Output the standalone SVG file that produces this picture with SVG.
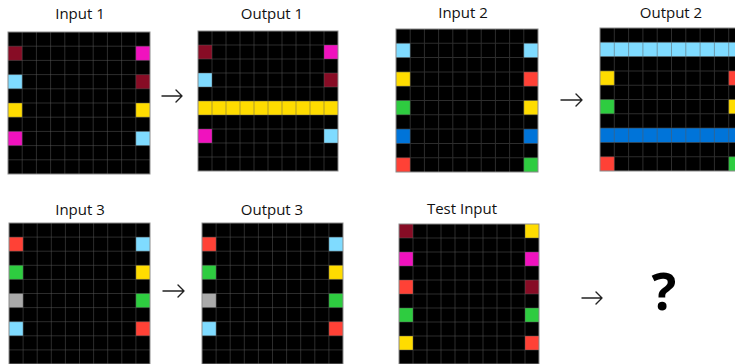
<svg xmlns="http://www.w3.org/2000/svg" xmlns:xlink="http://www.w3.org/1999/xlink" width="735" height="364" viewBox="0 0 735 364">
<style>
.t{font-family:"Open Sans","Noto Sans","Liberation Sans",sans-serif;font-size:15px;fill:#111;text-anchor:middle}
.bg{fill:#000}
.gl{fill:none;stroke:#5a5a5a;stroke-opacity:.5;stroke-width:0.07}
.bd{fill:none;stroke:#8a8a8a;stroke-width:0.07}
.m{fill:#870C25}.p{fill:#F012BE}.c{fill:#7FDBFF}.y{fill:#FFDC00}.r{fill:#FF4136}.g{fill:#2ECC40}.b{fill:#0074D9}.s{fill:#AAAAAA}
.ar{fill:none;stroke:#222;stroke-width:1.4;stroke-linecap:round;stroke-linejoin:round}
</style>
<defs>
<path id="gl" d="M1 0V10M2 0V10M3 0V10M4 0V10M5 0V10M6 0V10M7 0V10M8 0V10M9 0V10M0 1H10M0 2H10M0 3H10M0 4H10M0 5H10M0 6H10M0 7H10M0 8H10M0 9H10"/>
<rect id="bgr" width="10" height="10"/>
</defs>

<g id="input1">
<text class="t" x="80" y="19">Input 1</text>
<g transform="translate(8,32) scale(14.2)">
<use href="#bgr" class="bg"/>
<rect class="m" x="0" y="1" width="1" height="1"/><rect class="p" x="9" y="1" width="1" height="1"/>
<rect class="c" x="0" y="3" width="1" height="1"/><rect class="m" x="9" y="3" width="1" height="1"/>
<rect class="y" x="0" y="5" width="1" height="1"/><rect class="y" x="9" y="5" width="1" height="1"/>
<rect class="p" x="0" y="7" width="1" height="1"/><rect class="c" x="9" y="7" width="1" height="1"/>
<use href="#gl" class="gl"/>
<rect class="bd" width="10" height="10"/>
</g>
</g>

<g id="output1">
<text class="t" x="272" y="19">Output 1</text>
<g transform="translate(198,31) scale(14.0)">
<use href="#bgr" class="bg"/>
<rect class="m" x="0" y="1" width="1" height="1"/><rect class="p" x="9" y="1" width="1" height="1"/>
<rect class="c" x="0" y="3" width="1" height="1"/><rect class="m" x="9" y="3" width="1" height="1"/>
<rect class="y" x="0" y="5" width="10" height="1"/>
<rect class="p" x="0" y="7" width="1" height="1"/><rect class="c" x="9" y="7" width="1" height="1"/>
<use href="#gl" class="gl"/>
<rect class="bd" width="10" height="10"/>
</g>
</g>

<g id="input2">
<text class="t" x="463" y="18">Input 2</text>
<g transform="translate(396,29) scale(14.2,14.3)">
<use href="#bgr" class="bg"/>
<rect class="c" x="0" y="1" width="1" height="1"/><rect class="c" x="9" y="1" width="1" height="1"/>
<rect class="y" x="0" y="3" width="1" height="1"/><rect class="r" x="9" y="3" width="1" height="1"/>
<rect class="g" x="0" y="5" width="1" height="1"/><rect class="y" x="9" y="5" width="1" height="1"/>
<rect class="b" x="0" y="7" width="1" height="1"/><rect class="b" x="9" y="7" width="1" height="1"/>
<rect class="r" x="0" y="9" width="1" height="1"/><rect class="g" x="9" y="9" width="1" height="1"/>
<use href="#gl" class="gl"/>
<rect class="bd" width="10" height="10"/>
</g>
</g>

<g id="output2">
<text class="t" x="671" y="18">Output 2</text>
<g transform="translate(600,28) scale(14.3)">
<use href="#bgr" class="bg"/>
<rect class="c" x="0" y="1" width="10" height="1"/>
<rect class="y" x="0" y="3" width="1" height="1"/><rect class="r" x="9" y="3" width="1" height="1"/>
<rect class="g" x="0" y="5" width="1" height="1"/><rect class="y" x="9" y="5" width="1" height="1"/>
<rect class="b" x="0" y="7" width="10" height="1"/>
<rect class="r" x="0" y="9" width="1" height="1"/><rect class="g" x="9" y="9" width="1" height="1"/>
<use href="#gl" class="gl"/>
<rect class="bd" width="10" height="10"/>
</g>
</g>

<g id="input3">
<text class="t" x="80" y="215">Input 3</text>
<g transform="translate(9,223) scale(14.1)">
<use href="#bgr" class="bg"/>
<rect class="r" x="0" y="1" width="1" height="1"/><rect class="c" x="9" y="1" width="1" height="1"/>
<rect class="g" x="0" y="3" width="1" height="1"/><rect class="y" x="9" y="3" width="1" height="1"/>
<rect class="s" x="0" y="5" width="1" height="1"/><rect class="g" x="9" y="5" width="1" height="1"/>
<rect class="c" x="0" y="7" width="1" height="1"/><rect class="r" x="9" y="7" width="1" height="1"/>
<use href="#gl" class="gl"/>
<rect class="bd" width="10" height="10"/>
</g>
</g>

<g id="output3">
<text class="t" x="272" y="215">Output 3</text>
<g transform="translate(202,223) scale(14.1)">
<use href="#bgr" class="bg"/>
<rect class="r" x="0" y="1" width="1" height="1"/><rect class="c" x="9" y="1" width="1" height="1"/>
<rect class="g" x="0" y="3" width="1" height="1"/><rect class="y" x="9" y="3" width="1" height="1"/>
<rect class="s" x="0" y="5" width="1" height="1"/><rect class="g" x="9" y="5" width="1" height="1"/>
<rect class="c" x="0" y="7" width="1" height="1"/><rect class="r" x="9" y="7" width="1" height="1"/>
<use href="#gl" class="gl"/>
<rect class="bd" width="10" height="10"/>
</g>
</g>

<g id="testinput">
<text class="t" x="462" y="214">Test Input</text>
<g transform="translate(399,224) scale(14.0)">
<use href="#bgr" class="bg"/>
<rect class="m" x="0" y="0" width="1" height="1"/><rect class="y" x="9" y="0" width="1" height="1"/>
<rect class="p" x="0" y="2" width="1" height="1"/><rect class="p" x="9" y="2" width="1" height="1"/>
<rect class="r" x="0" y="4" width="1" height="1"/><rect class="m" x="9" y="4" width="1" height="1"/>
<rect class="g" x="0" y="6" width="1" height="1"/><rect class="g" x="9" y="6" width="1" height="1"/>
<rect class="y" x="0" y="8" width="1" height="1"/><rect class="r" x="9" y="8" width="1" height="1"/>
<use href="#gl" class="gl"/>
<rect class="bd" width="10" height="10"/>
</g>
</g>

<g id="unknown">
<text x="664" y="310" style="font-family:'Open Sans','Liberation Sans',sans-serif;font-weight:bold;font-size:52px;fill:#000;text-anchor:middle">?</text>
</g>

<g id="connectors">
<path class="ar" d="M162 96H182M176 90L182 96L176 102"/>
<path class="ar" d="M561 100H582M576 94L582 100L576 106"/>
<path class="ar" d="M163 291H184M178 285L184 291L178 297"/>
<path class="ar" d="M582 298H602M596 292L602 298L596 304"/>
</g>
</svg>
